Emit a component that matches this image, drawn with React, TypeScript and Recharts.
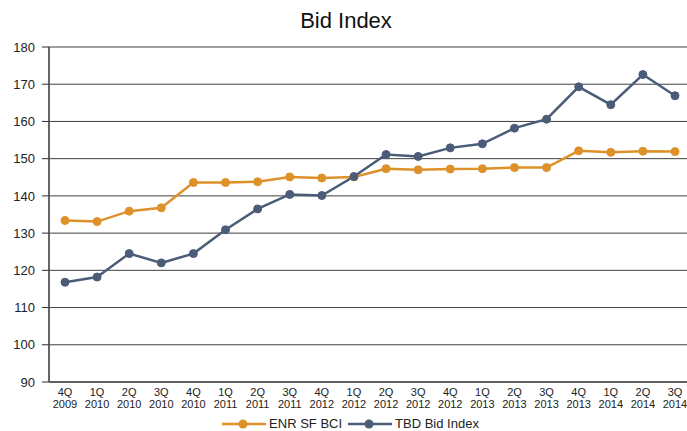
import {
  CartesianGrid,
  Legend,
  Line,
  LineChart,
  XAxis,
  YAxis,
} from "recharts";

const quarters = [
  "4Q", "1Q", "2Q", "3Q", "4Q", "1Q", "2Q", "3Q", "4Q", "1Q",
  "2Q", "3Q", "4Q", "1Q", "2Q", "3Q", "4Q", "1Q", "2Q", "3Q",
];
const years = [
  "2009", "2010", "2010", "2010", "2010", "2011", "2011", "2011", "2012", "2012",
  "2012", "2012", "2012", "2013", "2013", "2013", "2013", "2014", "2014", "2014",
];
const enrSfBci = [
  133.4, 133.1, 135.9, 136.8, 143.6, 143.6, 143.8, 145.1, 144.8, 145.1,
  147.3, 147.0, 147.2, 147.3, 147.6, 147.6, 152.1, 151.7, 152.0, 151.9,
];
const tbdBidIndex = [
  116.8, 118.2, 124.5, 122.0, 124.5, 130.9, 136.5, 140.4, 140.1, 145.2,
  151.1, 150.6, 152.9, 154.0, 158.2, 160.6, 169.3, 164.5, 172.6, 166.9,
];
const yTicks = [90, 100, 110, 120, 130, 140, 150, 160, 170, 180];

const data = quarters.map((q, i) => ({
  idx: i,
  bci: enrSfBci[i],
  tbd: tbdBidIndex[i],
}));

const FONT = "'Liberation Sans', Arial, sans-serif";
const ORANGE = "#DE9129";
const SLATE = "#4B5C78";

function QuarterTick({ x, y, payload }: any) {
  const i = payload.value as number;
  return (
    <text x={x} y={y} textAnchor="middle" fontSize={11} fill="#222" fontFamily={FONT}>
      <tspan x={x} dy={12}>{quarters[i]}</tspan>
      <tspan x={x} dy={12}>{years[i]}</tspan>
    </text>
  );
}

// legend entries: short line with a filled dot in the middle
function SeriesLegend({ payload }: any) {
  return (
    <div style={{ display: "flex", justifyContent: "center", gap: 6, fontSize: 13, color: "#222", fontFamily: FONT, paddingLeft: 10 }}>
      {(payload || []).map((p: any) => (
        <div key={p.value} style={{ display: "flex", alignItems: "center", gap: 3 }}>
          <svg width={44} height={12}>
            <line x1={0} y1={6} x2={44} y2={6} stroke={p.color} strokeWidth={2.5} />
            <circle cx={21} cy={6} r={4.5} fill={p.color} />
          </svg>
          <span>{p.value}</span>
        </div>
      ))}
    </div>
  );
}

export default function App() {
  return (
    <div
      style={{
        position: "absolute",
        left: 0,
        top: 0,
        width: 687,
        height: 431,
        overflow: "hidden",
        background: "#fff",
        fontFamily: FONT,
      }}
    >
      <div
        style={{
          position: "absolute",
          left: 0,
          width: 692,
          top: 8,
          textAlign: "center",
          fontSize: 22,
          color: "#111",
        }}
      >
        Bid Index
      </div>
      <LineChart
        width={691}
        height={439}
        data={data}
        margin={{ top: 47, right: 0, left: 0, bottom: 0 }}
      >
        <CartesianGrid horizontal vertical={false} stroke="#2a2a2a" strokeOpacity={0.9} />
        <XAxis
          dataKey="idx"
          type="category"
          height={34}
          padding={{ left: 16, right: 16 }}
          tick={<QuarterTick />}
          tickLine={false}
          tickSize={0}
          axisLine={{ stroke: "#222" }}
          interval={0}
        />
        <YAxis
          domain={[90, 180]}
          ticks={yTicks}
          width={49}
          tickSize={7}
          tickMargin={7}
          tickLine={{ stroke: "#2a2a2a" }}
          axisLine={{ stroke: "#666", strokeWidth: 2 }}
          tick={{ fontSize: 13, fill: "#222", fontFamily: FONT }}
        />
        <Legend verticalAlign="bottom" height={23} content={<SeriesLegend />} />
        <Line
          type="linear"
          dataKey="bci"
          name="ENR SF BCI"
          stroke={ORANGE}
          strokeWidth={2.5}
          dot={{ r: 4, fill: ORANGE, stroke: ORANGE, strokeWidth: 1 }}
          isAnimationActive={false}
        />
        <Line
          type="linear"
          dataKey="tbd"
          name="TBD Bid Index"
          stroke={SLATE}
          strokeWidth={2.5}
          dot={{ r: 4, fill: SLATE, stroke: SLATE, strokeWidth: 1 }}
          isAnimationActive={false}
        />
      </LineChart>
    </div>
  );
}
